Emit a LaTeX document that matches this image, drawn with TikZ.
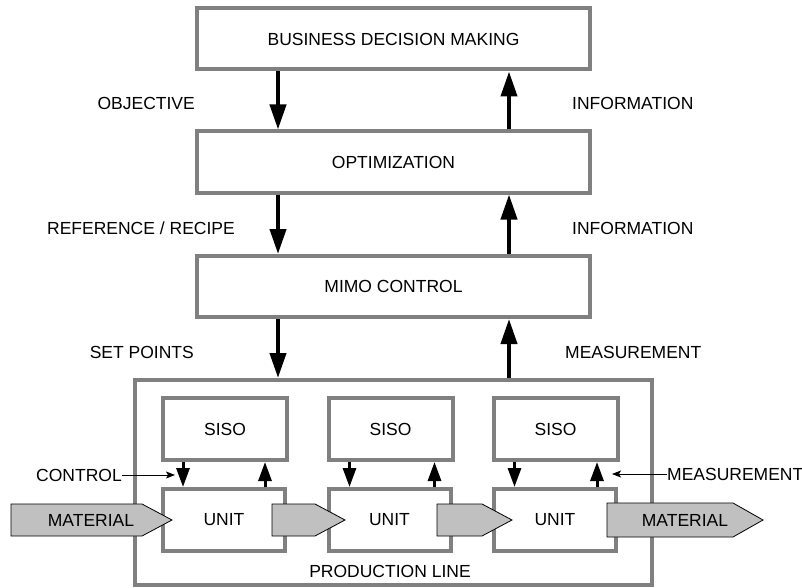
\documentclass[tikz,border=0pt]{standalone}
\usepackage{fontspec}
\setmainfont{Liberation Sans}
\usetikzlibrary{arrows.meta,calc}
\definecolor{boxgray}{HTML}{808080}
\definecolor{flowfill}{HTML}{C0C0C0}
\begin{document}
\begin{tikzpicture}[x=1pt,y=-1pt,
  every node/.style={font=\fontsize{17.5}{20}\selectfont},
  box/.style={draw=boxgray, line width=4pt, fill=white, inner sep=0pt},
  bigbox/.style={box, minimum width=393pt, minimum height=61pt},
  sisobox/.style={box, minimum width=124pt, minimum height=62pt},
  unitbox/.style={box, minimum width=122pt, minimum height=62pt},
  label/.style={inner sep=0pt},
  bigarrow/.style={line width=4pt, -{Triangle[length=25pt,width=16pt]}},
  smallarrow/.style={line width=3pt, -{Triangle[length=19pt,width=13pt]}},
  thinarrow/.style={line width=0.9pt, -{Stealth[length=9pt,width=7pt,inset=2pt]}},
  material/.style={draw=black, line width=0.8pt, fill=flowfill}
]
\useasboundingbox (0,0) rectangle (802,588);

% hierarchy of control levels
\node[bigbox] (biz) at (393.5,39) {BUSINESS DECISION MAKING};
\node[bigbox] (opt) at (393.5,162) {OPTIMIZATION};
\node[bigbox] (mimo) at (393.5,286.5) {MIMO CONTROL};

% production line with local loops
\node[box, minimum width=517pt, minimum height=205pt] (line) at (393.5,482.5) {};
\node[label] (linetext) at (390,571) {PRODUCTION LINE};

\node[sisobox] (siso1) at (225,429) {SISO};
\node[sisobox] (siso2) at (390.5,429) {SISO};
\node[sisobox] (siso3) at (555.5,429) {SISO};
\node[unitbox] (unit1) at (224,520) {UNIT};
\node[unitbox] (unit2) at (389.5,520) {UNIT};
\node[unitbox] (unit3) at (555,520) {UNIT};

% vertical signal flow between levels
\draw[bigarrow] ([xshift=83pt]biz.south west) -- ([xshift=83pt]opt.north west);
\draw[bigarrow] ([xshift=-83pt]opt.north east) -- ([xshift=-83pt]biz.south east);
\draw[bigarrow] ([xshift=83pt]opt.south west) -- ([xshift=83pt]mimo.north west);
\draw[bigarrow] ([xshift=-83pt]mimo.north east) -- ([xshift=-83pt]opt.south east);
\draw[bigarrow] ([xshift=83pt]mimo.south west) -- ([xshift=83pt]mimo.south west |- line.north);
\draw[bigarrow] ([xshift=-83pt]mimo.south east |- line.north) -- ([xshift=-83pt]mimo.south east);

\node[label, anchor=east] (obj) at (195,103) {OBJECTIVE};
\node[label, anchor=west] (info1) at (572,103) {INFORMATION};
\node[label, anchor=east] (ref) at (235,228) {REFERENCE / RECIPE};
\node[label, anchor=west] (info2) at (572,228) {INFORMATION};
\node[label, anchor=east] (setp) at (194,352) {SET POINTS};
\node[label, anchor=west] (meas) at (565,352) {MEASUREMENT};

% local loops SISO <-> UNIT
\draw[smallarrow] ([xshift=22pt]siso1.south west) -- ([xshift=22pt]siso1.south west |- unit1.north);
\draw[smallarrow] ([xshift=-22pt]unit1.north east) -- ([xshift=-22pt]unit1.north east |- siso1.south);
\draw[smallarrow] ([xshift=23pt]siso2.south west) -- ([xshift=23pt]siso2.south west |- unit2.north);
\draw[smallarrow] ([xshift=-18pt]unit2.north east) -- ([xshift=-18pt]unit2.north east |- siso2.south);
\draw[smallarrow] ([xshift=23pt]siso3.south west) -- ([xshift=23pt]siso3.south west |- unit3.north);
\draw[smallarrow] ([xshift=-21pt]unit3.north east) -- ([xshift=-21pt]unit3.north east |- siso3.south);

% callouts
\node[label, anchor=east] (ctrl) at (122,475) {CONTROL};
\coordinate (ctrltip) at (175,475);
\draw[thinarrow] (ctrl.east) -- (ctrltip);
\node[label, anchor=west] (meas2) at (667,474) {MEASUREMENT};
\coordinate (meastip) at (612,474);
\draw[thinarrow] (meas2.west) -- (meastip);

% material flow
\draw[material] (11,504) -- (142,504) -- (172,520) -- (142,536) -- (11,536) -- cycle;
\draw[material] (272,504) -- (315,504) -- (345,520) -- (315,536) -- (272,536) -- cycle;
\draw[material] (437,504) -- (482,504) -- (512,520) -- (482,536) -- (437,536) -- cycle;
\draw[material] (607,503) -- (733,503) -- (763,520) -- (733,537) -- (607,537) -- cycle;
\node[label] (matin) at (91,520) {MATERIAL};
\node[label] (matout) at (685,520) {MATERIAL};
\end{tikzpicture}
\end{document}
